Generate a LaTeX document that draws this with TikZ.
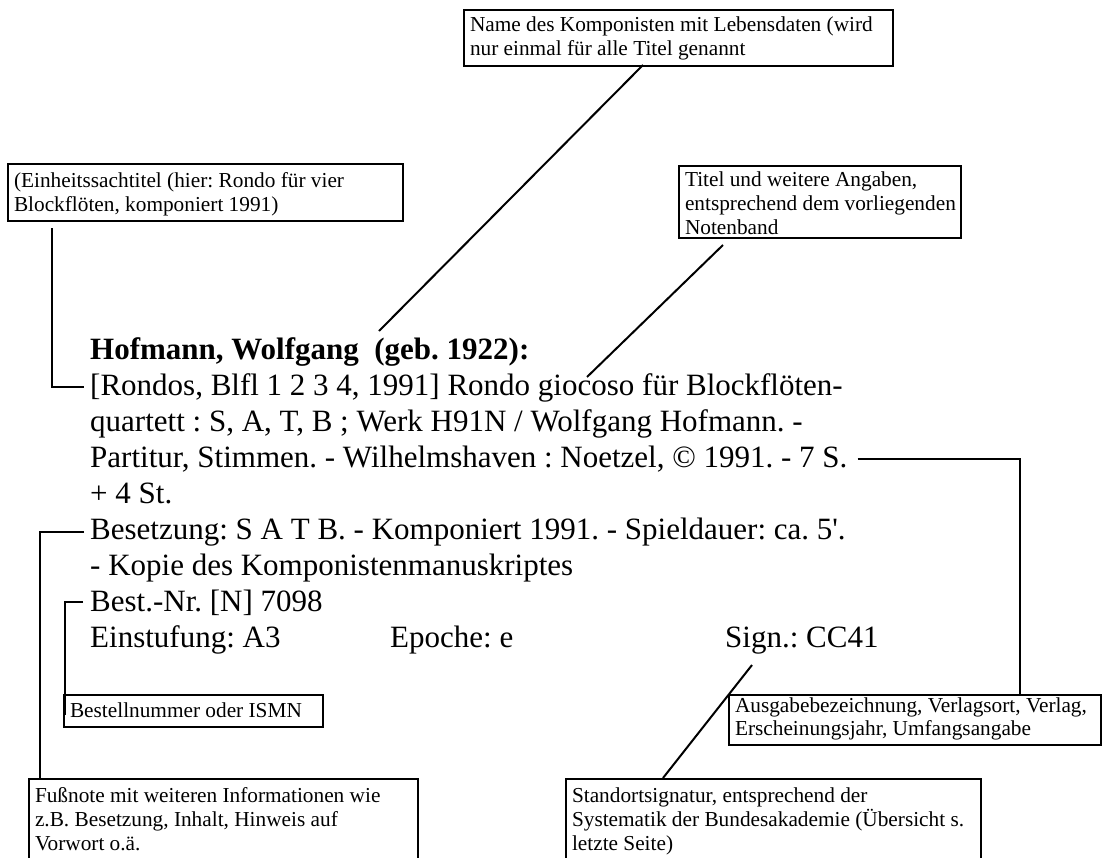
\documentclass[tikz,border=0pt]{standalone}
\usepackage{fontspec}
\setmainfont{Liberation Serif}
\frenchspacing
\newcommand\mainfs{\fontsize{31}{36}\selectfont\frenchspacing}
\newcommand\lblfs{\fontsize{21.3}{24}\selectfont\frenchspacing}
\newcommand\lbskip{24pt}
\newcommand\lb[4][21]{\vbox to #3pt{\hsize=#2pt\parindent=0pt\leftskip=6pt\rightskip=0pt plus 1fil\baselineskip=\lbskip\noindent\rule{0pt}{#1pt}#4\par\vss}}
\tikzset{
  lbl/.style={draw, line width=2pt, inner sep=0pt, anchor=north west, font=\lblfs},
  txt/.style={anchor=base west, inner sep=0pt, font=\mainfs},
  conn/.style={line width=2pt}
}
\begin{document}
\begin{tikzpicture}[x=1pt,y=-1pt]
\useasboundingbox (0,0) rectangle (1107,857);
% main text
\node[txt,font=\mainfs\bfseries] (t0) at (90,359) {Hofmann, Wolfgang\ \ (geb. 1922):};
\node[txt] (t1) at (90,395) {[Rondos, Blfl 1 2 3 4, 1991] Rondo giocoso für Blockflöten-};
\node[txt] (t2) at (90,431) {quartett : S, A, T, B ; Werk H91N / Wolfgang Hofmann. -};
\node[txt] (t3) at (90,467) {Partitur, Stimmen. - Wilhelmshaven : Noetzel, © 1991. - 7 S.};
\node[txt] (t4) at (90,503) {+ 4 St.};
\node[txt] (t5) at (90,539) {Besetzung: S A T B. - Komponiert 1991. - Spieldauer: ca. 5\textquotesingle.};
\node[txt] (t6) at (90,575) {- Kopie des Komponistenmanuskriptes};
\node[txt] (t7) at (90,611) {Best.-Nr. [N] 7098};
\node[txt] (t8a) at (90,647) {Einstufung: A3};
\node[txt] (t8b) at (390,647) {Epoche: e};
\node[txt] (t8c) at (725,647) {Sign.: CC41};
% label boxes
\node[lbl] (name) at (463,9) {\lb{429}{56}{Name des Komponisten mit Lebensdaten (wird\\nur einmal für alle Titel genannt}};
\node[lbl] (einh) at (7,163) {\lb[23]{395}{57}{(Einheitssachtitel (hier: Rondo für vier\\Blockflöten, komponiert 1991)}};
\node[lbl] (titel) at (678,165) {\lb[20]{282}{72}{Titel und weitere Angaben,\\entsprechend dem vorliegenden\\Notenband}};
\node[lbl,font=\lblfs\def\lbskip{23pt}] (ausg) at (728,694) {\lb[17]{372}{50}{Ausgabebezeichnung, Verlagsort, Verlag,\\Erscheinungsjahr, Umfangsangabe}};
\node[lbl] (best) at (63,694) {\lb[22]{259}{32}{Bestellnummer oder ISMN}};
\node[lbl] (fuss) at (28,778) {\lb[23]{389}{110}{Fußnote mit weiteren Informationen wie\\z.B. Besetzung, Inhalt, Hinweis auf\\Vorwort o.ä.}};
\node[lbl] (stand) at (565,778) {\lb[23]{415}{110}{Standortsignatur, entsprechend der\\Systematik der Bundesakademie (Übersicht s.\\letzte Seite)}};
% connector ends
\coordinate (n1) at (643,65);
\coordinate (n2) at (379,331);
\coordinate (ti1) at (723,245);
\coordinate (ti2) at (587,377);
\coordinate (e1) at (52,228);
\coordinate (a1) at (1020,694);
\coordinate (b1) at (40,778);
\coordinate (bn1) at (65,715);
\coordinate (s1) at (752,665);
\coordinate (s2) at (663,778);
% connectors
\draw[conn] (n1) -- (n2);
\draw[conn] (ti1) -- (ti2);
\draw[conn] (e1) |- ([xshift=-6pt]t1.west);
\draw[conn] ([xshift=10pt]t3.east) -| (a1);
\draw[conn] ([xshift=-6pt]t5.west) -| (b1);
\draw[conn] ([xshift=-7pt]t7.west) -| (bn1);
\draw[conn] (s1) -- (s2);
\end{tikzpicture}
\end{document}
